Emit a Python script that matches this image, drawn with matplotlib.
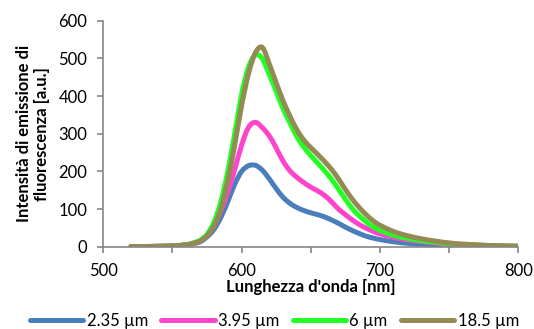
import matplotlib
matplotlib.use('Agg')
from matplotlib import pyplot as plt
from matplotlib.ticker import MultipleLocator
from matplotlib.path import Path
from matplotlib.patches import PathPatch
from matplotlib.lines import Line2D

plt.rcParams['font.family'] = ['Lato', 'DejaVu Sans']

# wavelength [nm] and emission intensity [a.u.] for each particle size
wavelength = [520, 530, 540, 550, 560, 565, 570, 575, 580, 585,
              590, 595, 600, 605, 610, 615, 620, 625, 630, 635,
              640, 645, 650, 655, 660, 665, 670, 675, 680, 685,
              690, 695, 700, 710, 720, 730, 740, 750, 760, 770,
              780, 790, 800]
i_235 = [0.5, 0.5, 1, 2, 5, 8, 13, 26, 46, 78,
         120, 166, 200, 215, 216, 203, 180, 154, 131, 115,
         104, 96, 90, 85, 79, 71, 62, 52, 43, 35,
         28, 23, 19, 13, 9, 6, 4, 3, 2, 1.5,
         1, 0.5, 0.5]
i_395 = [0.5, 0.5, 1, 2, 5, 9, 15, 30, 55, 95,
         145, 205, 270, 317, 330, 316, 294, 262, 227, 201,
         184, 170, 158, 148, 136, 119, 100, 85, 71, 59,
         49, 41, 34, 25, 18, 14, 10, 7, 5, 3.5,
         2.5, 1.5, 1]
i_6 = [0.5, 0.5, 1, 2, 5, 10, 17, 33, 65, 120,
       200, 300, 405, 477, 509, 499, 457, 412, 366, 328,
       292, 264, 242, 222, 201, 179, 153, 126, 101, 82,
       66, 53, 44, 30, 22, 16, 12, 8, 5, 4,
       3, 2, 1]
i_185 = [0.5, 0.5, 1, 2, 5, 9, 15, 29, 55, 100,
         175, 270, 375, 460, 515, 529, 485, 435, 387, 346,
         310, 283, 263, 245, 226, 205, 180, 152, 126, 104,
         85, 69, 57, 40, 29, 21, 15, 10, 7, 5,
         3, 2, 1.5]

labels = ['2.35 µm', '3.95 µm', '6 µm', '18.5 µm']
colors = ['#4A7EBB', '#FF44CC', '#22FF22', '#948A54']
series = [i_235, i_395, i_6, i_185]


def smooth_path(x, y):
    # smoothed line like Excel: cubic bezier through every data point
    n = len(x)
    verts = [(x[0], y[0])]
    codes = [Path.MOVETO]
    for i in range(n - 1):
        i0 = max(i - 1, 0)
        i3 = min(i + 2, n - 1)
        c1 = (x[i] + (x[i + 1] - x[i0]) / 6, y[i] + (y[i + 1] - y[i0]) / 6)
        c2 = (x[i + 1] - (x[i3] - x[i]) / 6, y[i + 1] - (y[i3] - y[i]) / 6)
        verts += [c1, c2, (x[i + 1], y[i + 1])]
        codes += [Path.CURVE4] * 3
    return Path(verts, codes)


W, H = 534, 329
fig = plt.figure(figsize=(W / 100, H / 100), dpi=100)
ax = fig.add_axes([103.3 / W, 1 - 246.7 / H, 415 / W, 226 / H])

handles = []
for vals, lab, col in zip(series, labels, colors):
    patch = PathPatch(smooth_path(wavelength, vals), fill=False, edgecolor=col,
                      lw=3.6, capstyle='round', joinstyle='round')
    ax.add_patch(patch)
    handles.append(Line2D([], [], color=col, lw=3.6, solid_capstyle='round', label=lab))

ax.set_xlim(500, 800)
ax.set_ylim(0, 600)
ax.xaxis.set_major_locator(MultipleLocator(100))
ax.xaxis.set_minor_locator(MultipleLocator(50))
ax.yaxis.set_major_locator(MultipleLocator(100))

for s in ['top', 'right']:
    ax.spines[s].set_visible(False)
for s in ['left', 'bottom']:
    ax.spines[s].set_color('#868686')
    ax.spines[s].set_linewidth(1.2)

ax.tick_params(which='both', direction='out', length=4.5, width=1.2,
               color='#868686', labelsize=12, labelcolor='#000000', pad=7)

ax.set_xlabel("Lunghezza d'onda [nm]", fontsize=12, fontweight='bold', labelpad=0)
ax.set_ylabel('Intensità di emissione di\nfluorescenza [a.u.]', fontsize=12,
              fontweight='bold', labelpad=6)

fig.legend(handles=handles, loc='center', bbox_to_anchor=(274.5 / W, 1 - 321 / H),
           ncol=4, frameon=False, fontsize=12, handlelength=3.2,
           handletextpad=0.2, columnspacing=0.8, borderpad=0)

plt.savefig('out.png', dpi=100)
